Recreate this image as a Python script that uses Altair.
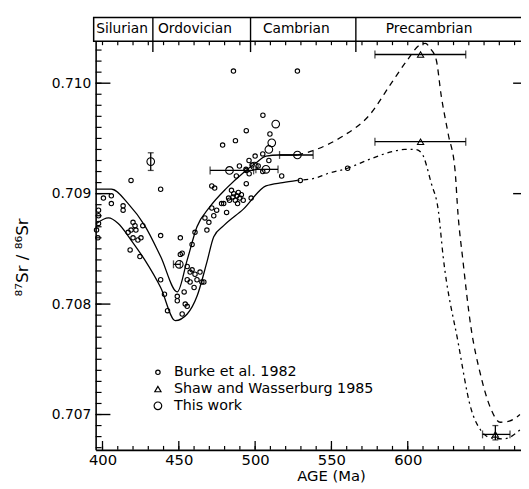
import altair as alt
import pandas as pd

# ---------------- data ----------------
# Burke et al. 1982 envelope (solid) and extrapolations (dashed / dash-dot)
upper_solid_age = [395.5, 405.8, 416.8, 427.7, 438.1, 449.0, 455.5, 461.9, 470.3, 481.3, 492.3, 500.6, 507.1, 515.5, 527.7]
upper_solid_val = [0.70904, 0.70904, 0.70891, 0.70871, 0.70843, 0.70811, 0.70840, 0.70870, 0.70888, 0.70905, 0.70919, 0.70928, 0.70934, 0.70935, 0.70935]
lower_solid_age = [396.1, 403.9, 410.3, 418.7, 427.7, 438.1, 447.7, 455.5, 461.9, 468.4, 472.9, 479.4, 492.3, 507.1, 518.1, 527.7]
lower_solid_val = [0.70873, 0.70878, 0.70873, 0.70858, 0.70840, 0.70815, 0.70785, 0.70791, 0.70807, 0.70838, 0.70861, 0.70871, 0.70886, 0.70907, 0.70910, 0.70912]
upper_dash_age = [527.7, 538.0, 557.4, 574.8, 589.7, 598.7, 608.4, 611.6, 615.0, 618.7, 621.9, 626.5, 631.0, 632.9, 636.1, 641.3, 647.7, 654.2, 660.6, 666.5, 673.5]
upper_dash_val = [0.70935, 0.70939, 0.70952, 0.70971, 0.71001, 0.71019, 0.71035, 0.71036, 0.71031, 0.71021, 0.70989, 0.70954, 0.70921, 0.70882, 0.70840, 0.70780, 0.70736, 0.70706, 0.70693, 0.70694, 0.70700]
lower_dash_age = [527.7, 539.4, 547.1, 560.6, 574.8, 589.7, 598.1, 605.2, 609.0, 615.5, 620.0, 623.2, 632.9, 641.3, 647.7, 654.2, 663.2, 673.5]
lower_dash_val = [0.70912, 0.70914, 0.70918, 0.70923, 0.70931, 0.70938, 0.70940, 0.70940, 0.70937, 0.70909, 0.70885, 0.70843, 0.70766, 0.70706, 0.70686, 0.70679, 0.70678, 0.70686]

# Burke et al. 1982 data points
burke_age = [485.8, 527.7, 505.1, 494.2, 487.1, 478.7, 418.7, 438.1, 509.7,
             400.6, 405.8, 405.8, 413.5, 413.5, 397.4, 397.4, 397.4, 396.1, 397.0,
             420.0, 421.3, 418.7, 416.8, 421.9, 420.0, 423.2, 425.2, 418.1, 424.5, 426.4,
             438.1, 438.1, 440.6, 442.6, 451.0, 452.2, 449.0, 449.0, 453.5, 454.2, 455.5, 452.2,
             455.5, 458.7, 460.6, 461.9, 457.4, 460.0, 463.9, 455.5, 457.4, 465.1,
             458.7, 460.6, 468.4, 469.7, 467.1, 471.6, 472.9, 479.4, 473.5, 471.6, 482.6,
             484.5, 486.0, 488.0, 490.0, 492.2, 487.0, 489.0, 485.5, 491.0, 488.5,
             496.1, 494.2, 497.4, 487.7, 489.7, 494.2,
             474.8, 478.0, 481.3, 483.2, 496.0, 500.0, 505.0, 509.0,
             466.4, 529.6, 560.6, 517.4, 494.0, 498.0, 502.0, 505.0, 451.0]
burke_val = [0.71011, 0.71011, 0.70971, 0.70957, 0.70948, 0.70944, 0.70912, 0.70904, 0.70954,
             0.70896, 0.70898, 0.70891, 0.70889, 0.70885, 0.70885, 0.70880, 0.70873, 0.70867, 0.70860,
             0.70874, 0.70871, 0.70867, 0.70865, 0.70867, 0.70860, 0.70858, 0.70860, 0.70849, 0.70843, 0.70871,
             0.70862, 0.70822, 0.70809, 0.70794, 0.70860, 0.70846, 0.70807, 0.70803, 0.70811, 0.70800, 0.70798, 0.70791,
             0.70834, 0.70831, 0.70827, 0.70822, 0.70820, 0.70815, 0.70829, 0.70822, 0.70829, 0.70820,
             0.70854, 0.70865, 0.70867, 0.70874, 0.70878, 0.70887, 0.70880, 0.70891, 0.70905, 0.70907, 0.70896,
             0.70903, 0.70900, 0.70898, 0.70896, 0.70894, 0.70894, 0.70901, 0.70897, 0.70899, 0.70891,
             0.70918, 0.70909, 0.70896, 0.70916, 0.70925, 0.70921,
             0.70885, 0.70891, 0.70883, 0.70894, 0.70930, 0.70934, 0.70936, 0.70930,
             0.70820, 0.70912, 0.70923, 0.70916, 0.70922, 0.70926, 0.70925, 0.70920, 0.70845]

# This work
this_age = [431.6, 450.3, 483.2, 507.1, 527.7, 513.5, 510.9, 509.0, 499.5]
this_val = [0.70929, 0.70836, 0.70921, 0.70922, 0.70935, 0.70963, 0.70946, 0.70940, 0.70925]

# Shaw and Wasserburg 1985
shaw_age = [608.4, 608.4, 657.4]
shaw_val = [0.71026, 0.70947, 0.70682]

# horizontal error bars
xerr_val = [0.70836, 0.70921, 0.70922, 0.70935, 0.71026, 0.70947, 0.70682]
xerr_lo = [446.5, 470.5, 500.5, 516.0, 578.5, 578.5, 649.0]
xerr_hi = [451.0, 499.0, 515.0, 538.0, 638.0, 638.0, 667.0]
# vertical error bars
yerr_age = [431.6, 657.4]
yerr_lo = [0.70921, 0.70677]
yerr_hi = [0.70937, 0.70690]

# geological periods
period_names = ["Silurian", "Ordovician", "Cambrian", "Precambrian"]
period_mid = [412.8, 460.6, 527.0, 614.0]
period_bounds = [433.0, 497.0, 566.0]

x_ticks_major = [400, 450, 500, 550, 600]
x_ticks_minor = list(range(400, 680, 10))
y_ticks_major = [0.707, 0.708, 0.709, 0.710]
y_ticks_minor = [round(0.7067 + 0.0001 * i, 4) for i in range(37)]
y_ticks_right = [0.709, 0.710]

sources = ["Burke et al. 1982", "Shaw and Wasserburg 1985", "This work"]

# ---------------- chart ----------------
W, H = 432, 415
FONT = "DejaVu Sans"
XS = alt.Scale(domain=[395.5, 674.2], nice=False, zero=False)
YS = alt.Scale(domain=[0.70668, 0.71038], nice=False, zero=False)
AX = alt.Axis(values=x_ticks_major, title="AGE (Ma)", ticks=False, grid=False, labelPadding=3,
              labelFontSize=15, titleFontSize=15, titleFontWeight="normal", titlePadding=1,
              titleX=239, domainWidth=1.6, domainColor="black", labelColor="black", titleColor="black",
              labelFont=FONT, titleFont=FONT, labelFlush=False)
AY = alt.Axis(values=y_ticks_major, format=".3f", title="⁸⁷Sr / ⁸⁶Sr", ticks=False, grid=False,
              labelPadding=5, labelFontSize=14, titleFontSize=17, titleFontWeight="normal",
              titleX=-74, titleY=219, titleAngle=270, titleAlign="center", titleBaseline="middle",
              domainWidth=1.6, domainColor="black", labelColor="black", titleColor="black",
              labelFont=FONT, titleFont=FONT)


def X(f="age"):
    return alt.X(f + ":Q", scale=XS, axis=AX)


def Y(f="val"):
    return alt.Y(f + ":Q", scale=YS, axis=AY)


def line(ages, vals, dash=None):
    d = pd.DataFrame({"age": ages, "val": vals})
    kw = dict(color="black", strokeWidth=1.3, interpolate="monotone")
    if dash:
        kw["strokeDash"] = dash
    return alt.Chart(d).mark_line(**kw).encode(x=X(), y=Y(), order="age:Q")


layers = []
layers.append(line(upper_solid_age, upper_solid_val))
layers.append(line(lower_solid_age, lower_solid_val))
layers.append(line(upper_dash_age, upper_dash_val, [6, 5]))
layers.append(line(lower_dash_age, lower_dash_val, [2, 4, 5, 4]))

# error bars
xe = pd.DataFrame({"val": xerr_val, "lo": xerr_lo, "hi": xerr_hi})
layers.append(alt.Chart(xe).mark_rule(color="black", strokeWidth=1.3).encode(
    x=X("lo"), x2="hi:Q", y=Y()))
layers.append(alt.Chart(xe).mark_tick(orient="vertical", color="black", size=8, thickness=1.3).encode(
    x=X("lo"), y=Y()))
layers.append(alt.Chart(xe).mark_tick(orient="vertical", color="black", size=8, thickness=1.3).encode(
    x=X("hi"), y=Y()))
ye = pd.DataFrame({"age": yerr_age, "lo": yerr_lo, "hi": yerr_hi})
layers.append(alt.Chart(ye).mark_rule(color="black", strokeWidth=1.3).encode(
    x=X(), y=Y("lo"), y2="hi:Q"))
layers.append(alt.Chart(ye).mark_tick(orient="horizontal", color="black", size=6, thickness=1.3).encode(
    x=X(), y=Y("lo")))
layers.append(alt.Chart(ye).mark_tick(orient="horizontal", color="black", size=6, thickness=1.3).encode(
    x=X(), y=Y("hi")))

# points
pts = pd.concat([
    pd.DataFrame({"age": burke_age, "val": burke_val, "source": sources[0]}),
    pd.DataFrame({"age": shaw_age, "val": shaw_val, "source": sources[1]}),
    pd.DataFrame({"age": this_age, "val": this_val, "source": sources[2]}),
])
LEG = alt.Legend(orient="none", legendX=56, legendY=329, title=None, labelFontSize=14.5,
                 labelFont=FONT, labelColor="black", rowPadding=2, labelOffset=9, labelLimit=0,
                 symbolStrokeColor="black", symbolFillColor="white", symbolStrokeWidth=1.2)
layers.append(alt.Chart(pts).mark_point(filled=False, color="black", strokeWidth=1.1, opacity=1).encode(
    x=X(), y=Y(),
    shape=alt.Shape("source:N", scale=alt.Scale(domain=sources, range=["circle", "triangle-up", "circle"]), legend=LEG),
    size=alt.Size("source:N", scale=alt.Scale(domain=sources, range=[20, 60, 70]), legend=LEG),
))

# inward ticks (left / right / bottom / top)
ytm = pd.DataFrame({"val": y_ticks_minor})
ytM = pd.DataFrame({"val": y_ticks_major})
ytr = pd.DataFrame({"val": y_ticks_right})
layers.append(alt.Chart(ytm).mark_rule(color="black", strokeWidth=1.2).encode(
    y=Y(), x=alt.value(0), x2=alt.value(6)))
layers.append(alt.Chart(ytM).mark_rule(color="black", strokeWidth=1.4).encode(
    y=Y(), x=alt.value(0), x2=alt.value(15)))
layers.append(alt.Chart(ytr).mark_rule(color="black", strokeWidth=1.4).encode(
    y=Y(), x=alt.value(W - 8), x2=alt.value(W)))
xtm = pd.DataFrame({"age": x_ticks_minor})
xtM = pd.DataFrame({"age": x_ticks_major})
layers.append(alt.Chart(xtm).mark_rule(color="black", strokeWidth=1.2).encode(
    x=X(), y=alt.value(H), y2=alt.value(H - 4)))
layers.append(alt.Chart(xtM).mark_rule(color="black", strokeWidth=1.3).encode(
    x=X(), y=alt.value(H), y2=alt.value(H - 9)))
layers.append(alt.Chart(xtm).mark_rule(color="black", strokeWidth=1.2).encode(
    x=X(), y=alt.value(0), y2=alt.value(4)))

# period header
one = pd.DataFrame({"k": [0]})
layers.append(alt.Chart(one).mark_rect(fillOpacity=0, stroke="black", strokeWidth=1.5).encode(
    x=alt.value(-2), x2=alt.value(W + 2), y=alt.value(-24), y2=alt.value(0)))
pb = pd.DataFrame({"age": period_bounds})
layers.append(alt.Chart(pb).mark_rule(color="black", strokeWidth=1.4).encode(
    x=X(), y=alt.value(-24), y2=alt.value(11)))
pn = pd.DataFrame({"age": period_mid, "name": period_names})
layers.append(alt.Chart(pn).mark_text(fontSize=14, font=FONT, color="black", baseline="middle", align="center").encode(
    x=X(), y=alt.value(-12), text="name:N"))

chart = alt.layer(*layers).properties(
    width=W, height=H,
    autosize=alt.AutoSizeParams(type="none"),
    padding={"left": 89, "top": 30, "right": 0, "bottom": 36},
    background="white",
).configure_view(strokeWidth=0)

chart.save("out.html", embed_options={"renderer": "svg", "actions": False})
